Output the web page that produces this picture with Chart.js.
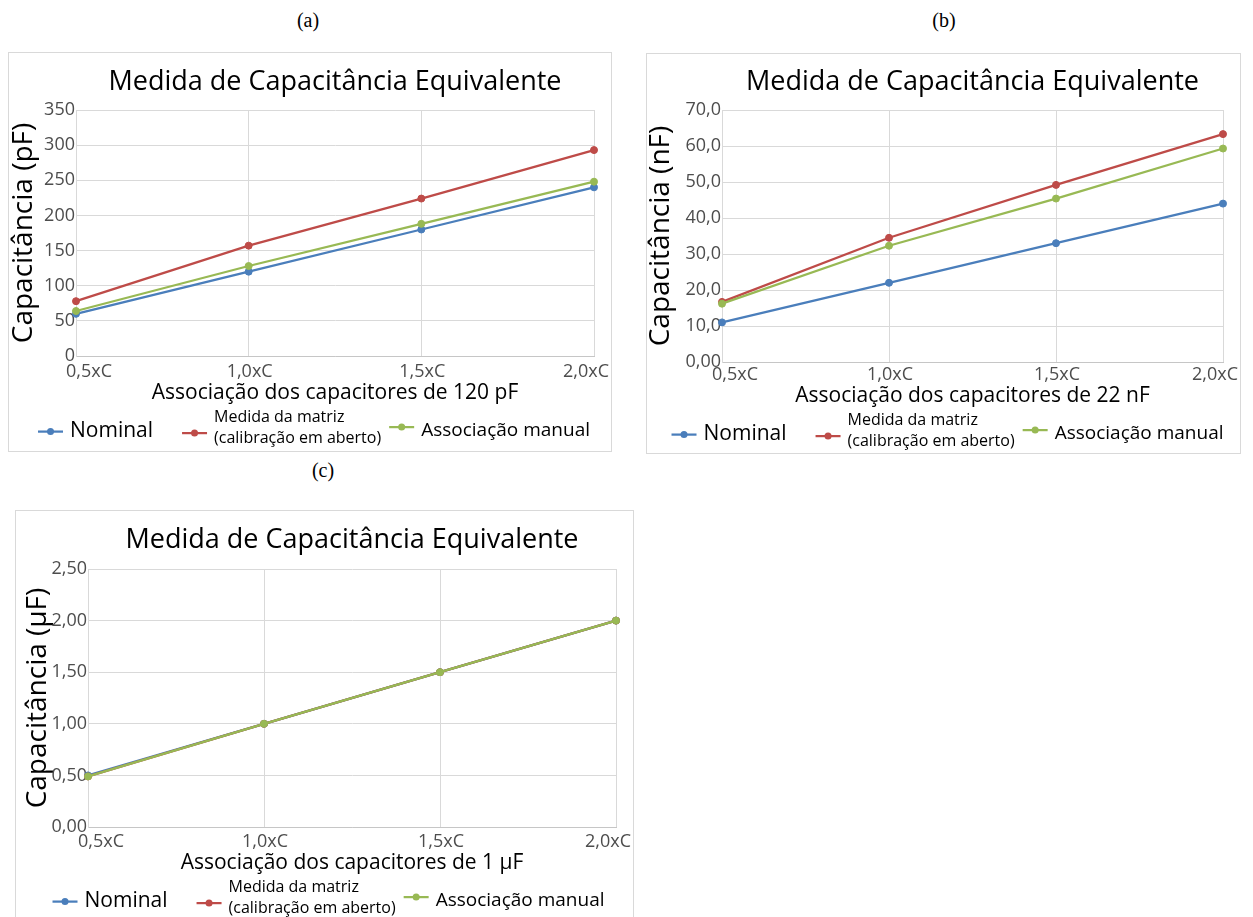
<!DOCTYPE html>
<html lang="pt">
<head>
<meta charset="utf-8">
<title>Medida de Capacitância Equivalente</title>
<script src="https://cdn.jsdelivr.net/npm/chart.js@4/dist/chart.umd.min.js"></script>
<style>
  html, body { margin: 0; padding: 0; background: #ffffff; }
  body { width: 1253px; height: 917px; overflow: hidden; position: relative; }
  .panel { position: absolute; box-sizing: border-box; border: 1px solid #d9d9d9; background: #fff; }
  .panel canvas { display: block; }
  .tag { position: absolute; transform: translate(-50%, -50%); font-family: "Liberation Serif", "Times New Roman", serif; font-size: 20px; color: #000; }
</style>
</head>
<body>
<div class="tag" style="left:308px; top:20px;">(a)</div>
<div class="tag" style="left:944px; top:20px;">(b)</div>
<div class="tag" style="left:323px; top:470px;">(c)</div>

<div class="panel" style="left:8px; top:52px; width:604px; height:400px;"><canvas id="chartA" width="602" height="398"></canvas></div>
<div class="panel" style="left:646px; top:53px; width:595px; height:401px;"><canvas id="chartB" width="593" height="399"></canvas></div>
<div class="panel" style="left:15px; top:510px; width:619px; height:416px;"><canvas id="chartC" width="617" height="414"></canvas></div>

<script>
// Categories and series (capacitance readings per association)
const categories = ['0,5xC', '1,0xC', '1,5xC', '2,0xC'];
const seriesNames = ['Nominal', ['Medida da matriz', '(calibração em aberto)'], 'Associação manual'];

const nominal120pF = [60, 120, 180, 240];
const matriz120pF  = [78, 157, 224, 293];
const manual120pF  = [64, 128, 188, 248];

const nominal22nF = [11, 22, 33, 44];
const matriz22nF  = [16.7, 34.5, 49.2, 63.3];
const manual22nF  = [16.2, 32.3, 45.4, 59.3];

const nominal1uF = [0.5, 1.0, 1.5, 2.0];
const matriz1uF  = [0.49, 1.0, 1.5, 2.0];
const manual1uF  = [0.49, 1.0, 1.5, 2.0];

const yTicks120pF = ['0', '50', '100', '150', '200', '250', '300', '350'];
const yTicks22nF  = ['0,00', '10,0', '20,0', '30,0', '40,0', '50,0', '60,0', '70,0'];
const yTicks1uF   = ['0,00', '0,50', '1,00', '1,50', '2,00', '2,50'];

const FONT = "'Open Sans', 'Noto Sans', sans-serif";
const COLORS = ['#4a7ebb', '#be4b48', '#98b954'];
const TICK_COLOR = '#4d4d4d';

// Category labels under the x axis: edge labels are kept inside the frame
const edgeLabels = {
  id: 'edgeLabels',
  afterDraw(chart, args, opts) {
    const ctx = chart.ctx;
    const xs = chart.scales.x;
    const labels = chart.data.labels;
    const y = xs.top + opts.pad + 10.8;
    ctx.save();
    ctx.font = `18px ${FONT}`;
    ctx.fillStyle = TICK_COLOR;
    ctx.textBaseline = 'middle';
    labels.forEach((t, i) => {
      const px = xs.getPixelForTick(i);
      if (i === 0) {
        ctx.textAlign = 'left';
        ctx.fillText(t, px - 10, y);
      } else if (i === labels.length - 1) {
        ctx.textAlign = 'right';
        ctx.fillText(t, px + 15, y);
      } else {
        ctx.textAlign = 'center';
        ctx.fillText(t, px + 1, y);
      }
    });
    ctx.restore();
  }
};

// Legend drawn beneath the x-axis title: line + marker + label, one row
const rowLegend = {
  id: 'rowLegend',
  afterDraw(chart, args, opts) {
    const ctx = chart.ctx;
    const ds = chart.data.datasets;
    const lineLen = 25, textGap = 7;
    const itemGaps = opts.itemGaps;
    const widths = ds.map((d, i) => {
      ctx.font = `${opts.sizes[i]}px ${FONT}`;
      const lines = Array.isArray(d.label) ? d.label : [d.label];
      return lineLen + textGap + Math.max(...lines.map(t => ctx.measureText(t).width));
    });
    const total = widths.reduce((a, b) => a + b, 0) + itemGaps.reduce((a, b) => a + b, 0);
    let x = chart.width / 2 + 4 - total / 2;
    const cy = chart.scales.x.bottom + 25;
    ctx.save();
    ds.forEach((d, i) => {
      const ly = cy + opts.lineShift[i];
      ctx.strokeStyle = d.borderColor;
      ctx.lineWidth = 2.25;
      ctx.beginPath();
      ctx.moveTo(x, ly);
      ctx.lineTo(x + lineLen, ly);
      ctx.stroke();
      ctx.fillStyle = d.borderColor;
      ctx.beginPath();
      ctx.arc(x + lineLen / 2, ly, 3.5, 0, Math.PI * 2);
      ctx.fill();
      ctx.font = `${opts.sizes[i]}px ${FONT}`;
      ctx.fillStyle = '#000';
      ctx.textAlign = 'left';
      ctx.textBaseline = 'middle';
      const tx = x + lineLen + textGap;
      if (Array.isArray(d.label)) {
        ctx.fillText(d.label[0], tx, cy - 13);
        ctx.fillText(d.label[1], tx, cy + 7.5);
      } else {
        ctx.fillText(d.label, tx, cy);
      }
      x += widths[i] + (itemGaps[i] || 0);
    });
    ctx.restore();
  }
};

function makeChart(id, values, yLabels, yMax, yStep, unitTitle, xTitle, L) {
  const datasets = values.map((vals, i) => ({
    label: seriesNames[i],
    data: vals,
    borderColor: COLORS[i],
    backgroundColor: COLORS[i],
    borderWidth: 2.25,
    pointRadius: 3.5,
    pointBorderWidth: 1,
    pointBackgroundColor: COLORS[i],
    pointBorderColor: COLORS[i],
    tension: 0,
    clip: false,
    order: 3 - i
  }));
  return new Chart(document.getElementById(id), {
    type: 'line',
    data: { labels: categories, datasets },
    options: {
      responsive: false,
      animation: false,
      devicePixelRatio: 1,
      layout: { padding: { top: 0, left: 0, right: L.padRight, bottom: L.padBottom } },
      plugins: {
        legend: { display: false },
        tooltip: { enabled: false },
        title: {
          display: true,
          fullSize: false,
          text: 'Medida de Capacitância Equivalente',
          color: '#000',
          font: { family: FONT, size: 27, weight: 'normal' },
          padding: { top: L.titleTop, bottom: L.titleBottom }
        },
        edgeLabels: { pad: L.xTickPad },
        rowLegend: { sizes: [21, 16, 19], itemGaps: [29, 8], lineShift: [1, 2.5, -3.5] }
      },
      scales: {
        x: {
          type: 'category',
          offset: false,
          grid: { color: '#d9d9d9', lineWidth: 1, drawTicks: false },
          border: { color: '#c6c6c6', width: 1 },
          ticks: { display: false },
          title: { display: true, text: xTitle, color: '#000', font: { family: FONT, size: 21 }, padding: { top: 0, bottom: 0 } },
          afterFit(s) { s.height = L.xHeight; s.paddingLeft = 0; s.paddingRight = 0; }
        },
        y: {
          min: 0,
          max: yMax,
          grid: { color: '#d9d9d9', lineWidth: 1, drawTicks: false },
          border: { color: '#d9d9d9', width: 1 },
          ticks: {
            stepSize: yStep,
            font: { family: FONT, size: 18 },
            color: TICK_COLOR,
            padding: 1,
            callback: (v, i) => yLabels[i]
          },
          title: { display: true, text: unitTitle, color: '#000', font: { family: FONT, size: 28 }, padding: { top: L.yTitlePad, bottom: 0 } },
          afterFit(s) { s.width = L.yWidth; }
        }
      }
    },
    plugins: [edgeLabels, rowLegend]
  });
}

makeChart('chartA', [nominal120pF, matriz120pF, manual120pF], yTicks120pF, 350, 50,
  'Capacitância (pF)', 'Associação dos capacitores de 120 pF',
  { padRight: 17, padBottom: 45.4, titleTop: 13, titleBottom: 11.6, xTickPad: 5.2, xHeight: 49.6, yWidth: 67, yTitlePad: -2 });

makeChart('chartB', [nominal22nF, matriz22nF, manual22nF], yTicks22nF, 70, 10,
  'Capacitância (nF)', 'Associação dos capacitores de 22 nF',
  { padRight: 17, padBottom: 44.4, titleTop: 12, titleBottom: 11.6, xTickPad: 2.2, xHeight: 46.6, yWidth: 75, yTitlePad: -3 });

makeChart('chartC', [nominal1uF, matriz1uF, manual1uF], yTicks1uF, 2.5, 0.5,
  'Capacitância (μF)', 'Associação dos capacitores de 1 μF',
  { padRight: 17, padBottom: 49.4, titleTop: 13.5, titleBottom: 12.1, xTickPad: 4.2, xHeight: 48.6, yWidth: 72, yTitlePad: 5.2 });
</script>
</body>
</html>
